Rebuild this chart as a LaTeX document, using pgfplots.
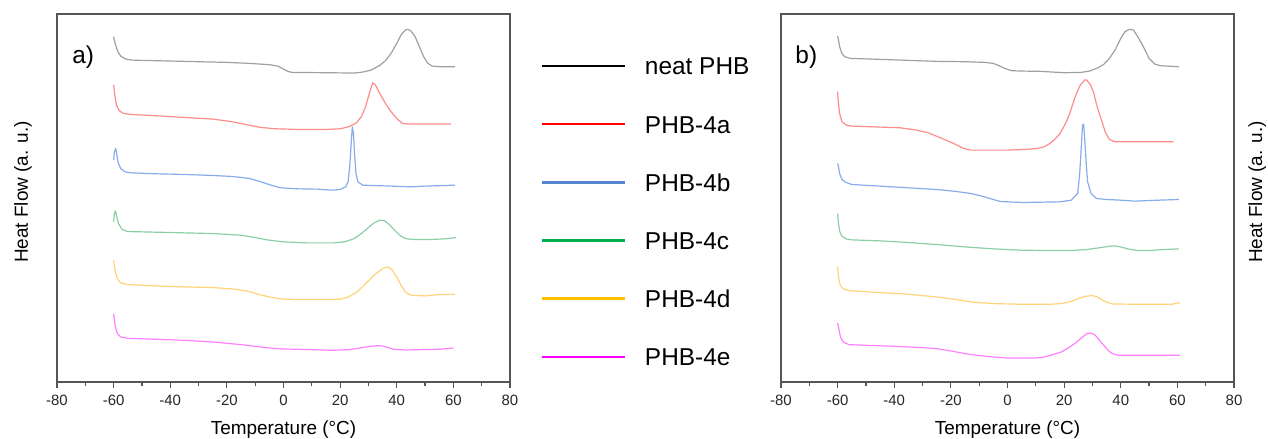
\documentclass[border=0pt]{standalone}
\usepackage{fontspec}
\setmainfont{Liberation Sans}
\usepackage{pgfplots}
\pgfplotsset{compat=1.18}
\definecolor{framegray}{HTML}{555555}
\definecolor{lgblue}{HTML}{5585D2}
\definecolor{lggreen}{HTML}{00B050}
\definecolor{lgorange}{HTML}{FFC000}
\definecolor{lgmag}{HTML}{FF00FF}
\definecolor{cblack}{HTML}{A0A0A0}
\definecolor{cred}{HTML}{FF8C8C}
\definecolor{cblue}{HTML}{86ACEC}
\definecolor{cgreen}{HTML}{8ACFA6}
\definecolor{corange}{HTML}{FFD37A}
\definecolor{cmag}{HTML}{FF80FF}
\pgfplotsset{
  dscstyle/.style={
    scale only axis, width=226.5bp, height=184bp,
    xmin=-80, xmax=80, ymin=0, ymax=1103,
    xtick={-80,-60,...,80}, minor x tick num=1,
    ytick=\empty, xtick pos=bottom, tick align=outside,
    major tick length=3bp, minor tick length=2bp,
    axis line style={framegray, line width=1bp},
    every tick/.style={framegray, line width=0.6bp},
    tick label style={font=\fontsize{7.5}{9}\selectfont, text=black!85},
    /pgf/number format/assume math mode=true,
    xlabel={Temperature (°C)}, ylabel={Heat Flow (a. u.)},
    label style={font=\fontsize{9.5}{11}\selectfont},
    xlabel style={at={(axis description cs:0.5,-0.1304)}, anchor=center},
    every axis plot/.append style={line width=0.6bp, line join=round, forget plot},
  }
}
\begin{document}
\begin{tikzpicture}
\useasboundingbox (0,0) rectangle (634bp,219.5bp);
% ---------------- panel a ----------------
\begin{axis}[dscstyle, at={(28.5bp,28.5bp)}, anchor=south west,
  ylabel style={at={(axis description cs:-0.075,0.516)}, anchor=center},
  legend style={at={(axis description cs:1.0662,0.4562)}, anchor=west,
    draw=none, fill=none, inner sep=0pt, row sep=17.7bp, column sep=9.5bp,
    font=\fontsize{12.25}{14}\selectfont,
    nodes={inner sep=0pt, text height=8.8bp, text depth=2.6bp}},
  legend cell align=left,
  legend image code/.code={\draw[#1, line width=1.3bp] (0bp,1.4bp) -- (41.5bp,1.4bp);},
]
\addplot[cblack] coordinates {(-60,1035)(-59.5,1015)(-58.5,990)(-57.5,977)(-56,969)(-54,965)(-50,964)(-40,962)(-30,960)(-20,958)(-12,955)(-5,951)(-2,947)(0,938)(1.5,931)(3,928)(15,927)(25,926)(28,929)(31,935)(34,949)(36,963)(38,985)(40,1015)(41.5,1040)(43,1055)(44,1057)(45,1052)(46.5,1035)(48,1005)(49.5,975)(51,955)(52.5,947)(55,945)(60.5,945)};
\addplot[cred] coordinates {(-60,890)(-59.5,855)(-59,830)(-58,813)(-56.5,805)(-54,802)(-45,798)(-35,793)(-25,788)(-18,780)(-13,771)(-8,763)(-3,759)(5,757)(15,757)(20,759)(23,765)(25.5,775)(27.5,795)(29,825)(30.5,870)(31.5,897)(32.5,890)(34,865)(36,835)(38,810)(40,790)(42,775)(44,773)(59.2,773)};
\addplot[cblue] coordinates {(-60,665)(-59.7,690)(-59.3,700)(-59,690)(-58.5,660)(-57.5,640)(-56,630)(-54,627)(-45,624)(-35,622)(-25,619)(-18,616)(-12,610)(-8,600)(-4,589)(-1,582)(5,579)(12,578)(17,575)(20,577)(22,585)(22.8,600)(23.4,645)(23.9,715)(24.3,765)(24.7,745)(25.1,685)(25.6,625)(26.3,600)(28,590)(35,588)(45,585)(50,587)(60.5,590)};
\addplot[cgreen] coordinates {(-60,480)(-59.7,505)(-59.4,513)(-59,500)(-58.3,475)(-57,457)(-55,451)(-45,449)(-35,447)(-25,445)(-15,440)(-10,433)(-5,425)(0,420)(8,417)(18,417)(22,421)(25,430)(27.5,445)(30,463)(32,477)(34,485)(35.5,484)(37,475)(39,457)(41,440)(43,430)(46,427)(52,427)(57,429)(61,433)};
\addplot[corange] coordinates {(-60,365)(-59.5,335)(-58.7,310)(-57.5,297)(-55,292)(-45,288)(-35,285)(-25,283)(-18,279)(-13,273)(-9,263)(-5,255)(-1,249)(5,247)(15,247)(20,248)(23,255)(26,270)(29,295)(32,320)(35,340)(36.8,345)(38.3,337)(40,315)(41.5,290)(43,270)(45,260)(50,258)(55,262)(60.5,263)};
\addplot[cmag] coordinates {(-60,205)(-59.5,170)(-58.7,145)(-57.5,135)(-55,131)(-45,128)(-35,125)(-25,120)(-15,112)(-10,107)(-5,102)(0,99)(10,97)(17,95)(23,97)(27,102)(30,106)(33,109)(35,108)(37,103)(39,98)(43,96)(48,97)(55,98)(60,102)};
\addlegendimage{black}\addlegendentry{neat PHB}
\addlegendimage{red}\addlegendentry{PHB-4a}
\addlegendimage{lgblue}\addlegendentry{PHB-4b}
\addlegendimage{lggreen}\addlegendentry{PHB-4c}
\addlegendimage{lgorange}\addlegendentry{PHB-4d}
\addlegendimage{lgmag}\addlegendentry{PHB-4e}
\node[anchor=west, inner sep=0pt, font=\fontsize{12.25}{14}\selectfont] at (axis description cs:0.0331,0.883) {a)};
\end{axis}
% ---------------- panel b ----------------
\begin{axis}[dscstyle, at={(390.5bp,28.5bp)}, anchor=south west,
  ylabel style={at={(axis description cs:1.051,0.516)}, anchor=center},
]
\addplot[cblack] coordinates {(-60,1037)(-59.7,1025)(-59.3,1005)(-58.5,985)(-57.5,975)(-55.5,970)(-45,967)(-35,964)(-25,961)(-15,960)(-8,958)(-5,955)(-3,948)(-1,940)(1.5,933)(5,932)(12,931)(20,927)(26,928)(29,932)(32,942)(34,952)(36,970)(38,995)(40,1030)(41.5,1050)(43,1057)(44.5,1055)(46,1035)(48,1005)(50,970)(52,953)(54,948)(60.5,945)};
\addplot[cred] coordinates {(-60,870)(-59.7,835)(-59.3,805)(-58.5,780)(-57,770)(-55,767)(-45,764)(-38,762)(-32,755)(-28,747)(-24,733)(-19,715)(-15.5,700)(-13,695)(-5,695)(0,695)(6,697)(10.5,700)(13,705)(15,715)(17,730)(18.6,745)(20.5,775)(22,805)(23.9,855)(25.5,887)(27.2,905)(28,905)(29.4,890)(30.5,865)(31.5,830)(33,790)(34.5,750)(36,727)(38,720)(58.6,720)};
\addplot[cblue] coordinates {(-60,655)(-59.7,645)(-59.3,625)(-58.5,607)(-57.3,599)(-55,592)(-45,587)(-35,582)(-25,577)(-18,571)(-13,565)(-9,557)(-5,547)(-2.5,541)(5,538)(12,539)(18.6,540)(22.5,545)(24.8,565)(25.5,625)(26,695)(26.5,770)(26.9,773)(27.3,725)(27.8,655)(28.3,600)(29.5,565)(31.5,550)(35,547)(40,545)(45,542)(50,544)(60.5,547)};
\addplot[cgreen] coordinates {(-60,505)(-59.7,475)(-59.2,450)(-58.5,437)(-57,429)(-55,426)(-45,423)(-35,418)(-25,412)(-15,405)(-5,399)(5,395)(15,394)(22,394)(28,397)(33,403)(36,407)(38,408)(40,405)(42.5,399)(46,394)(50,394)(55,397)(60.5,399)};
\addplot[corange] coordinates {(-60,345)(-59.7,315)(-59.1,290)(-58,279)(-56,274)(-45,268)(-35,263)(-25,255)(-18,247)(-13,240)(-5,235)(5,233)(15,233)(19,235)(22,240)(25,250)(27.5,257)(30,259)(31.5,256)(33,248)(35,239)(37,234)(45,233)(58,233)(61,238)};
\addplot[cmag] coordinates {(-60,177)(-59.6,160)(-59,135)(-58,120)(-56,112)(-50,110)(-40,107)(-30,103)(-25,100)(-20,93)(-15,85)(-10,79)(-5,75)(0,72)(10,72)(13,75)(16,82)(19,90)(21.5,102)(24,117)(26.5,135)(28,145)(29.5,147)(31,140)(32.5,125)(34,110)(35.5,95)(37,85)(39,80)(61,80)};
\node[anchor=west, inner sep=0pt, font=\fontsize{12.25}{14}\selectfont] at (axis description cs:0.031,0.883) {b)};
\end{axis}
\end{tikzpicture}
\end{document}
